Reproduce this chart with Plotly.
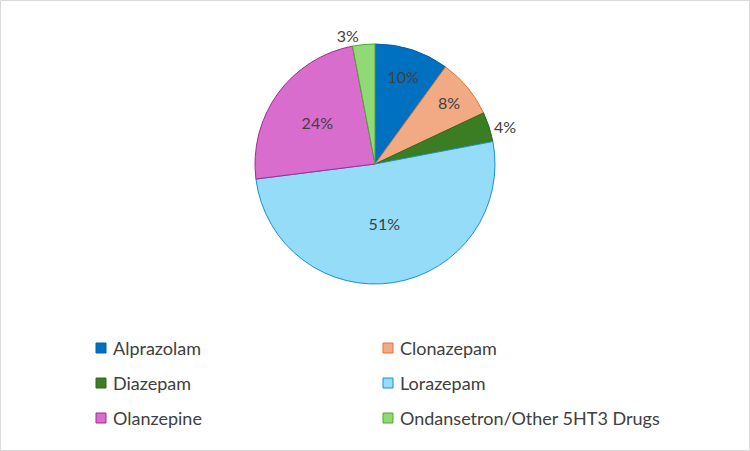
import plotly.graph_objects as go

labels = ["Alprazolam", "Clonazepam", "Diazepam", "Lorazepam", "Olanzepine",
          "Ondansetron/Other 5HT3 Drugs"]
values = [10, 8, 4, 51, 24, 3]
fill_colors = ["#0070C0", "#F2AA84", "#3A7D22", "#95DCF8", "#D86DCD", "#8FDA75"]
line_colors = ["#0062AC", "#E97132", "#2E6A1C", "#1A8FD6", "#A02B93", "#4EA72E"]
text_pos = ["inside", "inside", "outside", "inside", "inside", "outside"]

W, H = 750, 451
cx, cy, R = 375, 164, 120
FONT = "Lato"

fig = go.Figure()
fig.add_trace(go.Pie(
    labels=labels, values=values, sort=False, direction="clockwise", rotation=0,
    marker=dict(colors=fill_colors, line=dict(color=line_colors, width=1)),
    textinfo="percent", texttemplate="%{percent:.0%}",
    textposition=text_pos, insidetextorientation="horizontal",
    insidetextfont=dict(family=FONT, size=16, color="#404040"),
    outsidetextfont=dict(family=FONT, size=16, color="#404040"),
    showlegend=False,
    domain=dict(x=[(cx - R) / W, (cx + R) / W], y=[1 - (cy + R) / H, 1 - (cy - R) / H]),
))

# manual legend (two columns, three rows)
col_x = [96, 383]
row_y = [348, 383, 418]
shapes = []
annotations = []
for i, (lab, fc, lc) in enumerate(zip(labels, fill_colors, line_colors)):
    x0 = col_x[i % 2]
    y0 = row_y[i // 2]
    shapes.append(dict(type="rect", xref="paper", yref="paper",
                       x0=x0 / W, x1=(x0 + 10) / W,
                       y0=1 - (y0 + 5) / H, y1=1 - (y0 - 5) / H,
                       fillcolor=fc, line=dict(color=lc, width=1)))
    annotations.append(dict(text=lab, xref="paper", yref="paper",
                            x=(x0 + 15) / W, y=1 - (y0 - 0.5) / H, xanchor="left",
                            yanchor="middle", showarrow=False,
                            font=dict(family=FONT, size=18, color="#404040")))

# chart border
shapes.append(dict(type="rect", xref="paper", yref="paper",
                   x0=0.5 / W, x1=1 - 0.5 / W, y0=0.5 / H, y1=1 - 0.5 / H,
                   line=dict(color="#D9D9D9", width=1), fillcolor="rgba(0,0,0,0)"))

fig.update_layout(
    width=W, height=H, margin=dict(l=0, r=0, t=0, b=0),
    paper_bgcolor="white", plot_bgcolor="white",
    shapes=shapes, annotations=annotations,
    font=dict(family=FONT, color="#404040"),
)

fig.write_html("out.html")
